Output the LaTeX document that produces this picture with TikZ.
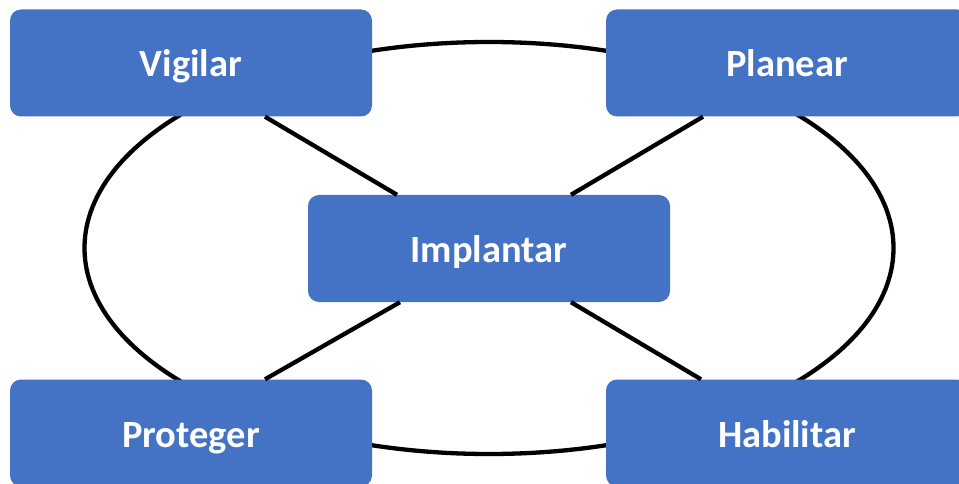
\documentclass[tikz,border=0pt]{standalone}
\usepackage{fontspec}
\setmainfont{Carlito}
\usetikzlibrary{calc}
\definecolor{boxblue}{HTML}{4472C4}
\tikzset{
  stage/.style={draw=none, fill=boxblue, rounded corners=11pt,
    minimum width=362pt, minimum height=107pt, inner sep=0pt,
    text height=36pt, text depth=8pt,
    text=white, font=\bfseries\fontsize{38.5}{40}\selectfont},
  link/.style={line width=4.3pt, black}
}
\begin{document}
\begin{tikzpicture}[x=1pt, y=-1pt]
  \clip (0,0) rectangle (959,484);
  \fill[white] (0,0) rectangle (959,484);

  % outer loop joining the four corner stages
  \draw[link] (489,248) ellipse [x radius=404.5pt, y radius=206pt];

  % stage boxes
  \node[stage] (vig) at (191,63)    {Vigilar};
  \node[stage] (pla) at (787,63)    {Planear};
  \node[stage] (imp) at (489,248.5) {Implantar};
  \node[stage] (pro) at (191,433)   {Proteger};
  \node[stage] (hab) at (787,433)   {Habilitar};

  % spokes to the central stage
  \draw[link] ([xshift=74pt]vig.south) -- ([xshift=-92pt]imp.north);
  \draw[link] ([xshift=-84pt]pla.south) -- ([xshift=82pt]imp.north);
  \draw[link] ([xshift=-89pt]imp.south) -- ([xshift=74pt]pro.north);
  \draw[link] ([xshift=82pt]imp.south) -- ([xshift=-86pt]hab.north);
\end{tikzpicture}
\end{document}
